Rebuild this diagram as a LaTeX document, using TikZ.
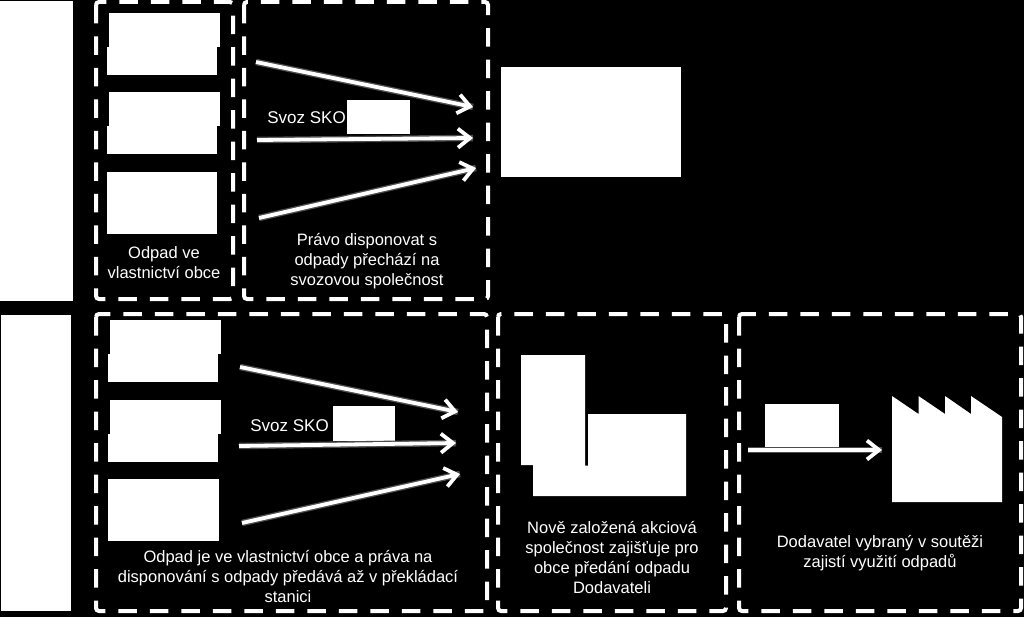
\documentclass[tikz,border=0pt]{standalone}
\usepackage{fontspec}
\setmainfont{Liberation Sans}
\usetikzlibrary{arrows.meta}
\tikzset{
    whitebox/.style={fill=white,draw=none,inner sep=0pt},
    frame/.style={draw=white,line width=4pt,dash pattern=on 18.5pt off 13pt,rounded corners=3pt},
    flow/.style={draw=white,line width=3.8pt,-{Straight Barb[length=12pt,width=19pt,line width=3.8pt]},
        preaction={draw=white!30!black,line width=6.5pt,-}},
    caption/.style={text=white,align=center,font=\fontsize{16.5}{20}\selectfont,inner sep=0pt},
    svoz/.style={caption,anchor=east,font=\fontsize{17}{20}\selectfont}
}
\newcommand{\blockat}[3]{\node[whitebox,anchor=north west,minimum width=111pt,minimum height=34pt] (#1up) at (#2+2,#3) {};
    \node[whitebox,anchor=north west,minimum width=110pt,minimum height=28pt] (#1lo) at (#2,#3+34) {};}

\begin{document}
\begin{tikzpicture}[x=1pt,y=-1pt]
    \fill[black] (0,0) rectangle (1024,617);
    \useasboundingbox (0,0) rectangle (1024,617);

    % side bars
    \node[whitebox,anchor=north west,minimum width=73pt,minimum height=300pt] (bar_a) at (0,1) {};
    \node[whitebox,anchor=north west,minimum width=70pt,minimum height=296pt] (bar_b) at (1,315) {};

    % upper row
    \draw[frame] (96,2) rectangle (233,299);
    \draw[frame] (244,2) rectangle (488,299);
    \blockat{a_1}{107}{13}
    \blockat{a_2}{107}{92}
    \node[whitebox,anchor=north west,minimum width=110pt,minimum height=62pt] (a_3) at (107,172) {};
    \node[whitebox,anchor=north west,minimum width=180pt,minimum height=110pt] (dump) at (501,67) {};
    \node[whitebox,anchor=north west,minimum width=63pt,minimum height=34pt] (tag_a) at (347,100) {};
    \node[svoz] (svoz_a) at (346,118) {Svoz SKO};
    \node[caption] (own_a) at (164,262.5) {Odpad ve\\vlastnictví obce};
    \node[caption] (right_a) at (367,261) {Právo disponovat s\\odpady přechází na\\svozovou společnost};

    \coordinate (a_s1) at (256,62);
    \coordinate (a_e1) at (473,107);
    \coordinate (a_s2) at (257,140);
    \coordinate (a_e2) at (473,138);
    \coordinate (a_s3) at (259,218);
    \coordinate (a_e3) at (476,168);
    \path[flow] (a_s1) -- (a_e1);
    \path[flow] (a_s2) -- (a_e2);
    \path[flow] (a_s3) -- (a_e3);

    % lower row
    \draw[frame] (96,314) rectangle (487,611);
    \draw[frame] (498,314) rectangle (726,611);
    \draw[frame] (739,314) rectangle (1021,611);
    \blockat{b_1}{108}{320}
    \blockat{b_2}{108}{400}
    \node[whitebox,anchor=north west,minimum width=111pt,minimum height=62pt] (b_3) at (108,479) {};
    \node[whitebox,anchor=north west,minimum width=62pt,minimum height=35pt] (tag_b) at (333,406) {};
    \node[svoz] (svoz_b) at (329,426) {Svoz SKO};
    \node[caption] (own_b) at (288,577) {Odpad je ve vlastnictví obce a práva na\\disponování s odpady předává až v překládací\\stanici};

    \coordinate (b_s1) at (240,367);
    \coordinate (b_e1) at (458,412);
    \coordinate (b_s2) at (239,446);
    \coordinate (b_e2) at (456,443);
    \coordinate (b_s3) at (242,523);
    \coordinate (b_e3) at (460,474);
    \path[flow] (b_s1) -- (b_e1);
    \path[flow] (b_s2) -- (b_e2);
    \path[flow] (b_s3) -- (b_e3);

    % station
    \fill[white] (521,355) -- (585,355) -- (585,465.5) -- (588,465.5) -- (588,414) -- (686,414)
        -- (686,496) -- (533,496) -- (533,465) -- (521,465) -- cycle;
    \node[caption] (firm) at (612,558) {Nově založená akciová\\společnost zajišťuje pro\\obce předání odpadu\\Dodavateli};

    % supplier
    \node[whitebox,anchor=north west,minimum width=74pt,minimum height=44pt] (load) at (765,404) {};
    \coordinate (c_s) at (748,450);
    \coordinate (c_e) at (882,450);
    \path[flow] (c_s) -- (c_e);
    \fill[white] (892,396) -- (918.5,414) -- (918.5,396) -- (945,414) -- (945,396) -- (971,414)
        -- (971,396) -- (1002,417) -- (1002,502) -- (892,502) -- cycle;
    \node[caption] (chosen) at (880,553) {Dodavatel vybraný v soutěži\\zajistí využití odpadů};
\end{tikzpicture}
\end{document}
